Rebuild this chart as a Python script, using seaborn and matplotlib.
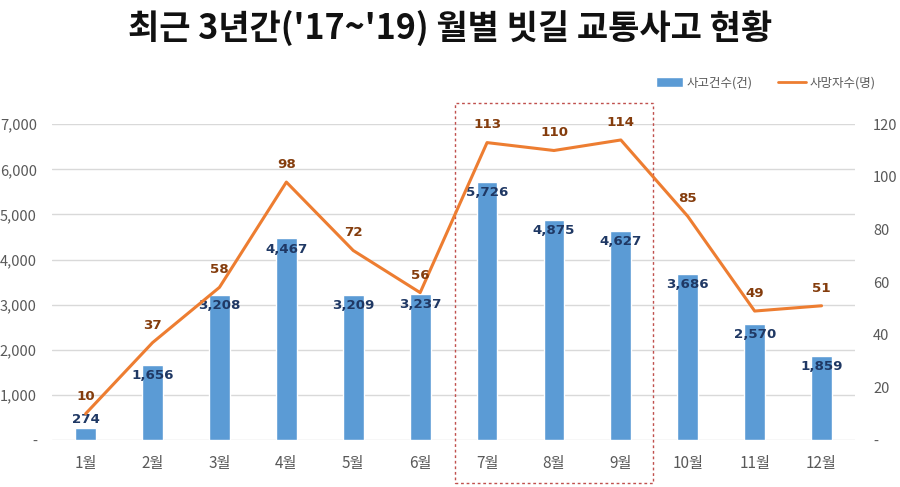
import seaborn as sns
import matplotlib.pyplot as plt
import pandas as pd
import numpy as np
from matplotlib.patches import Rectangle, Patch
from matplotlib.lines import Line2D

# 데이터
months = ['1월', '2월', '3월', '4월', '5월', '6월', '7월', '8월', '9월', '10월', '11월', '12월']
accidents = [274, 1656, 3208, 4467, 3209, 3237, 5726, 4875, 4627, 3686, 2570, 1859]
deaths = [10, 37, 58, 98, 72, 56, 113, 110, 114, 85, 49, 51]
left_ticks = [0, 1000, 2000, 3000, 4000, 5000, 6000, 7000]
right_ticks = [0, 20, 40, 60, 80, 100, 120]
highlight = ['7월', '8월', '9월']

df = pd.DataFrame({'month': months, 'accidents': accidents, 'deaths': deaths})

sns.set_style('white')
plt.rcParams['font.family'] = ['Noto Sans CJK KR', 'DejaVu Sans']

bar_color = '#5B9BD5'
line_color = '#ED7D31'
tick_color = '#595959'
grid_color = '#D9D9D9'

fig = plt.figure(figsize=(9, 4.87), dpi=100)
ax = fig.add_axes([0.058, 0.0965, 0.892, 0.6485])

sns.barplot(data=df, x='month', y='accidents', color=bar_color, width=0.31,
            saturation=1, ax=ax, zorder=2)
ax.set_ylim(0, 7000)
ax.set_xlim(-0.5, len(months) - 0.5)
ax.set_yticks(left_ticks)
ax.set_yticklabels(['-' if t == 0 else f'{t:,}' for t in left_ticks])
ax.yaxis.grid(True, color=grid_color, linewidth=1)
ax.set_axisbelow(True)
ax.set_xlabel('')
ax.set_ylabel('')
for s in ax.spines.values():
    s.set_visible(False)
ax.tick_params(axis='both', length=0, colors=tick_color)
ax.tick_params(axis='x', pad=11, labelsize=11)
ax.tick_params(axis='y', pad=11, labelsize=10.5)

# 막대 라벨 (짧은 막대는 라벨을 조금 올림)
for i, v in enumerate(accidents):
    ax.annotate(f'{v:,}', (i, max(v, 700)), xytext=(0, -3), textcoords='offset points',
                ha='center', va='top', fontsize=9.6, fontweight='bold',
                family='DejaVu Sans', color='#1F3864', zorder=5)

ax2 = ax.twinx()
sns.lineplot(data=df, x='month', y='deaths', sort=False, color=line_color,
             linewidth=2.2, ax=ax2)
ax2.set_ylim(0, 120)
ax2.set_yticks(right_ticks)
ax2.set_yticklabels(['-' if t == 0 else str(t) for t in right_ticks])
ax2.set_ylabel('')
for s in ax2.spines.values():
    s.set_visible(False)
ax2.tick_params(axis='y', length=0, colors=tick_color, labelsize=10.5, pad=13)

for i, v in enumerate(deaths):
    ax2.annotate(str(v), (i, v), xytext=(0, 8), textcoords='offset points',
                 ha='center', va='bottom', fontsize=9.6, fontweight='bold',
                 family='DejaVu Sans', color='#843C0C')

# 7~9월 강조 박스
i0 = months.index(highlight[0])
i1 = months.index(highlight[-1])
rect = Rectangle((i0 - 0.48, -953), (i1 - i0) + 0.96, 7000 + 953 + 465,
                 fill=False, edgecolor='#C0504D', linestyle=(0, (2, 2)),
                 linewidth=1, clip_on=False, zorder=6)
ax.add_patch(rect)

# 범례
handles = [Patch(facecolor=bar_color, label='사고건수(건)'),
           Line2D([0], [0], color=line_color, linewidth=2, label='사망자수(명)')]
fig.legend(handles=handles, loc='center right', bbox_to_anchor=(0.985, 0.83),
           ncol=2, frameon=False, fontsize=9, labelcolor=tick_color,
           handlelength=2.2, handleheight=0.9, handletextpad=0.3, columnspacing=2.0)

fig.suptitle("최근 3년간('17~'19) 월별 빗길 교통사고 현황", x=0.5, y=0.98,
             fontsize=24.5, fontweight='bold', color='#111111')

fig.savefig('out.png', dpi=100)
